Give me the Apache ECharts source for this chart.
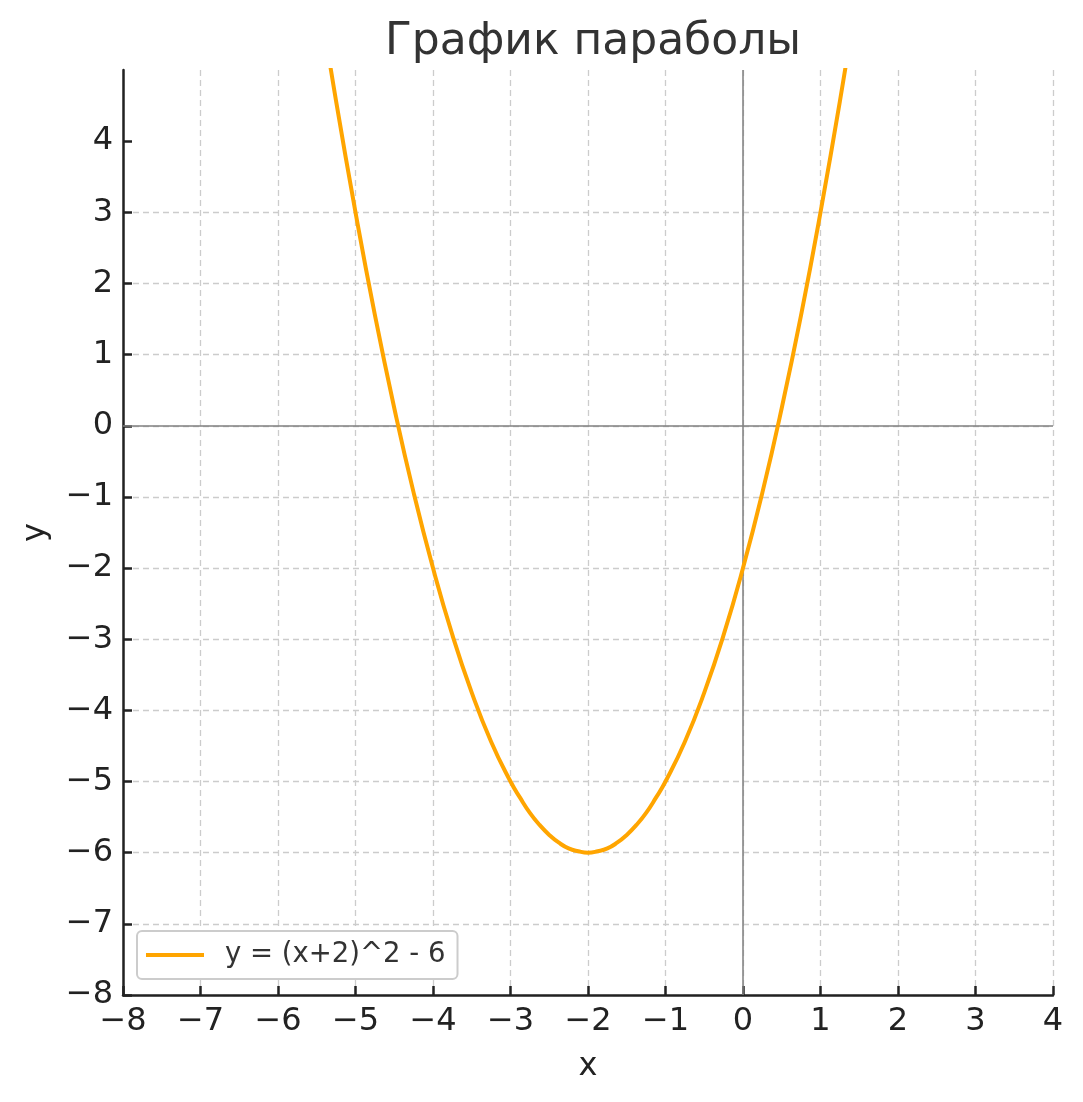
<!DOCTYPE html>
<html>
<head>
<meta charset="utf-8">
<script src="https://cdn.jsdelivr.net/npm/echarts@6/dist/echarts.min.js"></script>
<style>html,body{margin:0;padding:0;background:#fff}#c{width:1083px;height:1102px}</style>
</head>
<body>
<div id="c"></div>
<script>
const titleText = 'График параболы';
const seriesName = 'y = (x+2)^2 - 6';
const xValues = [-5.5,-5.25,-5,-4.75,-4.5,-4.25,-4,-3.75,-3.5,-3.25,-3,-2.875,-2.75,-2.625,-2.5,-2.375,-2.25,-2.125,-2,-1.875,-1.75,-1.625,-1.5,-1.375,-1.25,-1.125,-1,-0.75,-0.5,-0.25,0,0.25,0.5,0.75,1,1.25,1.5];
const yValues = [6.25,4.56,3,1.56,0.25,-0.94,-2,-2.94,-3.75,-4.44,-5,-5.23,-5.44,-5.61,-5.75,-5.86,-5.94,-5.98,-6,-5.98,-5.94,-5.86,-5.75,-5.61,-5.44,-5.23,-5,-4.44,-3.75,-2.94,-2,-0.94,0.25,1.56,3,4.56,6.25];
const xTicks = [-8,-7,-6,-5,-4,-3,-2,-1,0,1,2,3,4];
const yTicks = [-8,-7,-6,-5,-4,-3,-2,-1,0,1,2,3,4];

const fmt = v => String(v).replace('-', '\u2212');
const font = 'DejaVu Sans';
const chart = echarts.init(document.getElementById('c'));
chart.setOption({
  animation: false,
  backgroundColor: '#fff',
  title: {
    text: titleText, left: 588, top: 16, textAlign: 'center',
    textStyle: { fontFamily: font, fontSize: 44, fontWeight: 'normal', color: '#333' }
  },
  grid: { left: 123, right: 30, top: 70, bottom: 107 },
  legend: {
    data: [seriesName], left: 137, top: 931,
    backgroundColor: '#fff', borderColor: '#ccc', borderWidth: 2, borderRadius: 5,
    padding: [10, 12, 10, 9], itemWidth: 58, itemHeight: 4, itemGap: 10,
    textStyle: { fontFamily: font, fontSize: 27.5, color: '#333', padding: [0,0,0,16] },
    icon: 'rect'
  },
  xAxis: {
    type: 'value', min: -8, max: 4, interval: 1,
    name: 'x', nameLocation: 'middle', nameGap: 56,
    nameTextStyle: { fontFamily: font, fontSize: 32, color: '#222' },
    axisLine: { onZero: false, lineStyle: { color: '#222', width: 2.5 } },
    axisTick: { inside: true, length: 9, lineStyle: { color: '#222', width: 2.5 } },
    axisLabel: { fontFamily: font, fontSize: 32, color: '#222', margin: 11, formatter: fmt, customValues: xTicks },
    splitLine: { show: true, lineStyle: { color: '#ccc', type: [6, 4], width: 1.3 } }
  },
  yAxis: {
    type: 'value', min: -8, max: 5, interval: 1,
    name: 'y', nameLocation: 'middle', nameGap: 71, nameRotate: 90,
    nameTextStyle: { fontFamily: font, fontSize: 32, color: '#222' },
    axisLine: { onZero: false, lineStyle: { color: '#222', width: 2.5 } },
    axisTick: { inside: true, length: 9, lineStyle: { color: '#222', width: 2.5 }, customValues: yTicks },
    axisLabel: { fontFamily: font, fontSize: 32, color: '#222', margin: 10, formatter: fmt, customValues: yTicks },
    splitLine: { show: true, showMaxLine: false, lineStyle: { color: '#ccc', type: [6, 4], width: 1.3 } }
  },
  series: [{
    name: seriesName, type: 'line', smooth: true, showSymbol: false, symbol: 'none',
    clip: true,
    data: xValues.map((x, i) => [x, yValues[i]]),
    lineStyle: { color: '#FFA500', width: 4 },
    itemStyle: { color: '#FFA500' },
    z: 3,
    markLine: {
      silent: true, symbol: 'none', animation: false,
      lineStyle: { color: '#808080', type: 'solid', width: 1.5 },
      label: { show: false },
      z: 1,
      data: [{ xAxis: 0 }, { yAxis: 0 }]
    }
  }]
});
</script>
</body>
</html>
